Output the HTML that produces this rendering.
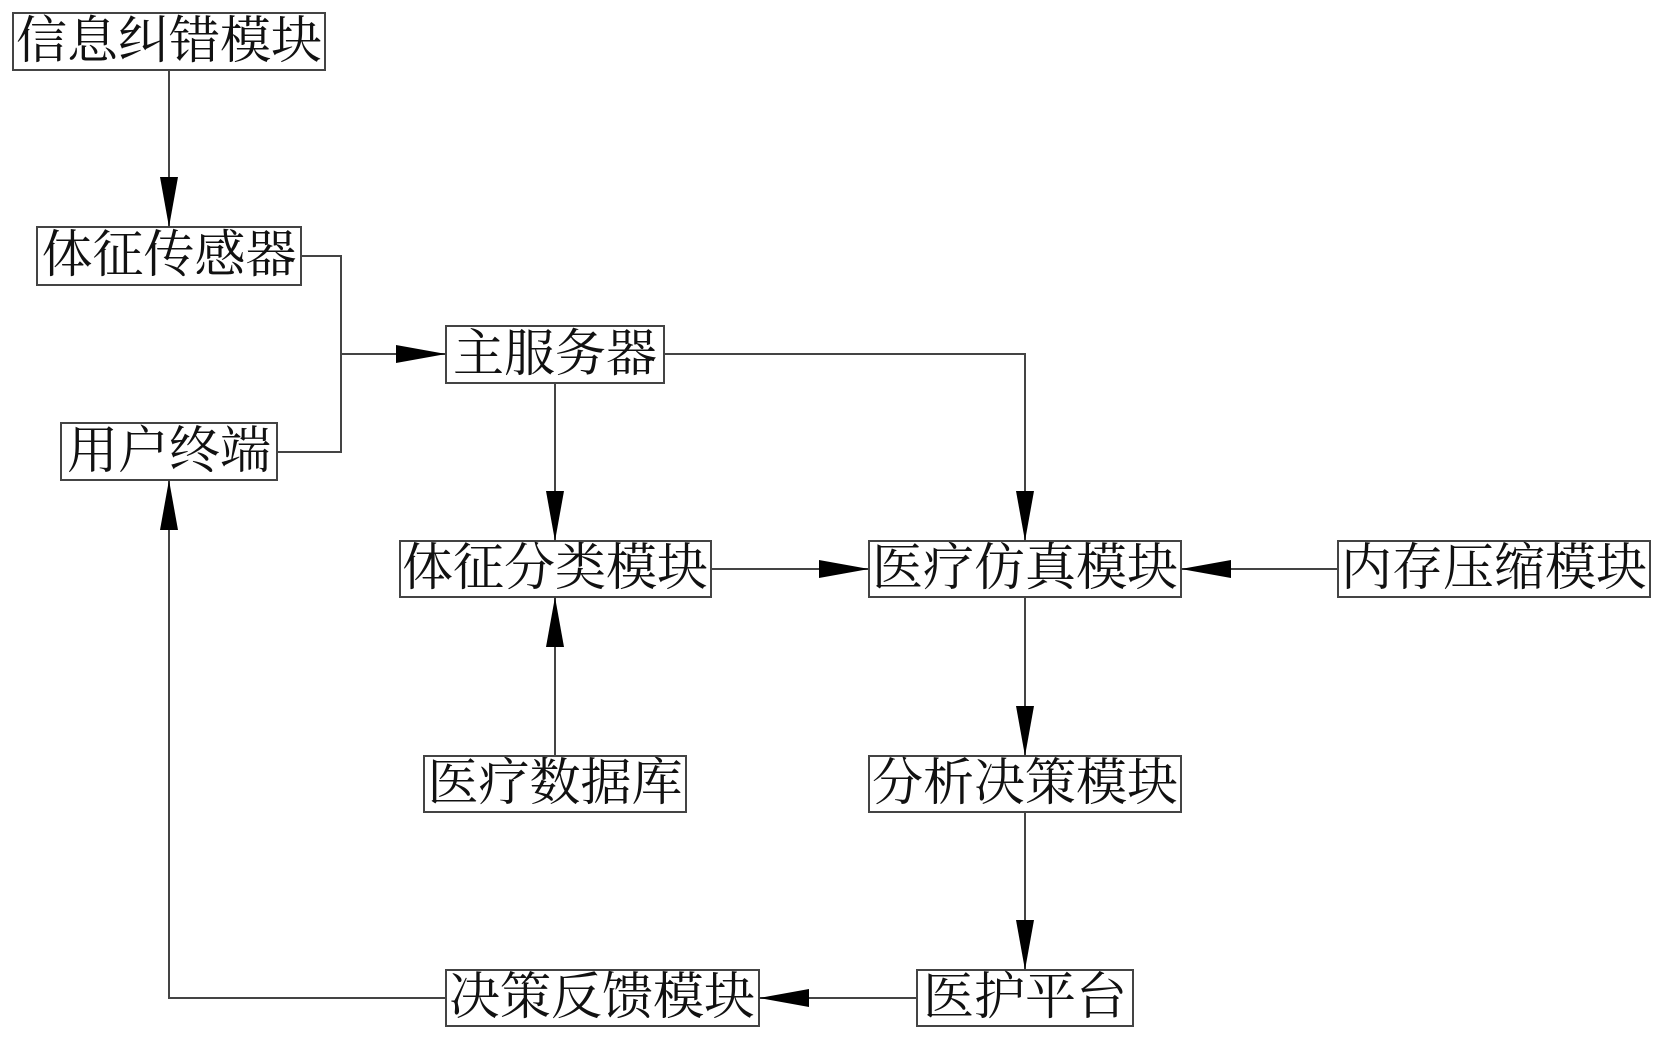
<!DOCTYPE html>
<html><head><meta charset="utf-8"><style>
html,body{margin:0;padding:0;background:#fff;}
svg{display:block;}
text{font-family:"Liberation Serif","Noto Serif CJK SC",serif;font-size:51px;fill:#111;}
</style></head><body>
<svg width="1664" height="1040" viewBox="0 0 1664 1040" xmlns="http://www.w3.org/2000/svg">
<defs>
<marker id="a" markerWidth="50" markerHeight="18" refX="50" refY="9" orient="auto" markerUnits="userSpaceOnUse">
<path d="M0,0 L50,9 L0,18 Z" fill="#000"/>
</marker>
</defs>
<g fill="#fff" stroke="#444" stroke-width="2">
<rect x="13" y="13" width="312" height="57"/>
<rect x="37" y="227" width="264" height="58"/>
<rect x="61" y="423" width="216" height="57"/>
<rect x="446" y="326" width="218" height="57"/>
<rect x="400" y="541" width="311" height="56"/>
<rect x="869" y="541" width="312" height="56"/>
<rect x="1338" y="541" width="312" height="56"/>
<rect x="424" y="756" width="262" height="56"/>
<rect x="869" y="756" width="312" height="56"/>
<rect x="917" y="970" width="216" height="56"/>
<rect x="446" y="970" width="313" height="56"/>
</g>
<g stroke="#444" stroke-width="2" fill="none">
<line x1="169" y1="70" x2="169" y2="227" marker-end="url(#a)"/>
<polyline points="301,256 341,256 341,452 277,452"/>
<line x1="341" y1="354" x2="446" y2="354" marker-end="url(#a)"/>
<line x1="555" y1="383" x2="555" y2="541" marker-end="url(#a)"/>
<polyline points="664,354 1025,354 1025,541" marker-end="url(#a)"/>
<line x1="711" y1="569" x2="869" y2="569" marker-end="url(#a)"/>
<line x1="1338" y1="569" x2="1181" y2="569" marker-end="url(#a)"/>
<line x1="555" y1="756" x2="555" y2="597" marker-end="url(#a)"/>
<line x1="1025" y1="597" x2="1025" y2="756" marker-end="url(#a)"/>
<line x1="1025" y1="812" x2="1025" y2="970" marker-end="url(#a)"/>
<line x1="917" y1="998" x2="759" y2="998" marker-end="url(#a)"/>
<polyline points="446,998 169,998 169,480" marker-end="url(#a)"/>
</g>
<g text-anchor="middle" dominant-baseline="central">
<text x="169" y="42">信息纠错模块</text>
<text x="169" y="256">体征传感器</text>
<text x="169" y="452">用户终端</text>
<text x="555" y="355">主服务器</text>
<text x="555" y="569">体征分类模块</text>
<text x="1025" y="569">医疗仿真模块</text>
<text x="1494" y="569">内存压缩模块</text>
<text x="555" y="784">医疗数据库</text>
<text x="1025" y="784">分析决策模块</text>
<text x="1025" y="998">医护平台</text>
<text x="602" y="998">决策反馈模块</text>
</g>
</svg>
</body></html>
